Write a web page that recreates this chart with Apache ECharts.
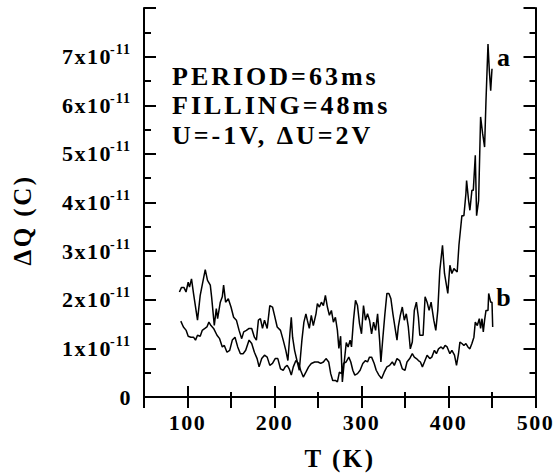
<!DOCTYPE html>
<html>
<head>
<meta charset="utf-8">
<script src="https://cdn.jsdelivr.net/npm/echarts@6/dist/echarts.min.js"></script>
<style>
  html, body { margin: 0; padding: 0; background: #fff; }
  #chart { width: 555px; height: 476px; }
  /* Times-like bold text in the original is spaced out a bit */
  #chart text[style*="26px"] { letter-spacing: 3px; }
  #chart text[style*="25px"] { letter-spacing: 2.5px; }
  #chart text[style*="22px"] { letter-spacing: 1.5px; }
  #chart text[style*="14px"] { letter-spacing: 1px; }
</style>
</head>
<body>
<div id="chart"></div>
<script>
// temperature (K) and charge (units of 1e-11 C), curve a
const tA = [90.7, 93, 96, 98.3, 100.8, 102.3, 104.6, 106.9, 111.5, 114.6, 116.9, 120.4, 123, 126.2, 127.7,
  130.8, 133.1, 134.6, 137.7, 140, 141.5, 143.8, 146.9, 150, 153, 156.2, 159.3, 162.3, 164.6, 167.7,
  170.8, 173.8, 176.9, 179.2, 181.5, 183.8, 186.2, 188.5, 191.6, 194.6, 197.7, 200, 203.1, 206.9, 210,
  213, 215.4, 217.7, 219.3, 220.8, 223.1, 226.2, 228.5, 231.5, 233.8, 236.1, 237.7, 240, 242.3, 244.6,
  247.7, 249.3, 251.6, 253.9, 256.2, 258.5, 260.8, 263.1, 265.4, 267.7, 270, 272.3, 274, 276, 278,
  280, 282.5, 284.6, 286.9, 288.5, 290.8, 293.1, 295.4, 297.7, 300, 302.3, 304.6, 306.9, 309.2, 311.6,
  313.9, 316.2, 318.5, 320.8, 322.3, 324.6, 326.9, 329.2, 331.5, 333.8, 336.1, 338.4, 340.8, 342.3, 344.6,
  346.9, 349.2, 351.5, 353.8, 356.1, 358.4, 360.7, 363.1, 365.4, 367, 370.8, 373.1, 375.4, 377.7, 380,
  383.1, 385.4, 387.7, 390, 393.1, 395.4, 399.2, 401.6, 403.9, 406.2, 410, 412, 415.4, 417.7, 420,
  420.8, 423.1, 424.6, 426.9, 428.5, 430.8, 432.3, 434.6, 436.9, 439.2, 441.5, 443.1, 445.4, 446.9, 448.5, 450];
const qA = [2.16, 2.25, 2.25, 2.16, 2.36, 2.26, 2.43, 2.13, 1.58, 2.09, 2.30, 2.62, 2.40, 2.30, 2.06,
  1.47, 1.82, 1.61, 1.95, 2.06, 2.30, 1.95, 2.02, 1.85, 1.64, 1.58, 1.37, 1.20, 1.34, 1.37,
  1.41, 1.41, 1.23, 1.17, 1.58, 1.61, 1.41, 1.58, 1.41, 1.88, 1.85, 1.68, 1.44, 1.37, 1.17,
  0.96, 0.75, 1.30, 1.64, 1.23, 0.96, 0.72, 0.55, 1.17, 1.54, 1.71, 1.58, 1.41, 1.68, 1.47,
  1.71, 1.92, 1.85, 1.95, 1.88, 2.09, 1.85, 1.68, 1.78, 1.54, 1.64, 1.37, 1.00, 1.25, 0.31,
  0.69, 1.12, 1.03, 1.17, 1.03, 1.58, 1.99, 1.88, 1.51, 1.30, 1.88, 1.58, 1.71, 1.58, 1.30,
  1.54, 1.37, 1.71, 1.17, 0.72, 1.23, 1.71, 2.13, 2.13, 2.02, 1.71, 1.44, 1.17, 1.44, 1.68,
  1.85, 1.58, 1.71, 1.44, 0.99, 1.13, 1.78, 1.95, 1.64, 1.27, 1.27, 2.06, 1.95, 1.78, 1.95,
  1.58, 1.37, 1.78, 2.60, 3.12, 2.54, 2.13, 2.71, 2.54, 2.64, 2.57, 3.12, 3.73, 3.73, 4.18,
  4.45, 4.04, 3.84, 4.25, 4.25, 4.97, 3.73, 4.04, 5.76, 5.42, 5.14, 6.10, 7.26, 6.72, 6.30, 6.75];

// curve b
const tB = [92.3, 95.3, 98.5, 100.8, 103.9, 106.9, 109.2, 111.5, 114.6, 116.9, 120, 122.3, 124.6, 127, 130,
  133.9, 136.9, 140, 142.3, 145.4, 148.5, 151.5, 154.6, 157.7, 160.8, 163.9, 166.9, 170.8, 173.8, 176.9,
  180, 182.3, 185.3, 188.5, 191.6, 194.6, 197.7, 200.8, 203.8, 206.9, 210, 212.3, 214.6, 216.9, 219.3,
  221.6, 224.6, 227.7, 230, 233.1, 236.1, 239.2, 242.3, 246.2, 250, 253.1, 256.2, 259.2, 262.3, 264.6,
  266.9, 270, 272.3, 274.6, 277, 279.3, 282.3, 285.4, 287.7, 290, 292.3, 295.4, 298.4, 301.5, 304.6,
  306.9, 309.2, 311.6, 314.6, 316.9, 320, 323.1, 326.1, 329.2, 332.3, 335.4, 337.7, 340.8, 343.8, 346.9,
  350, 352.3, 355.4, 358.4, 360.7, 363.1, 365.4, 367.7, 370, 372.3, 375.4, 378.5, 380.8, 383.8, 386.1,
  388.5, 391.5, 393.8, 396.1, 398.4, 401.6, 403.9, 406.9, 409.2, 411.5, 413.1, 415.4, 417.7, 420, 422.3,
  424.6, 426.9, 429.2, 430.8, 433.1, 435.4, 436.9, 438.5, 440, 441.5, 443.1, 445.4, 446.2, 448.5, 450, 450.8];
const qB = [1.56, 1.44, 1.37, 1.25, 1.23, 1.23, 1.17, 1.27, 1.25, 1.37, 1.41, 1.44, 1.54, 1.47, 1.41,
  1.27, 1.20, 1.03, 1.06, 0.92, 0.96, 1.17, 1.23, 1.03, 0.89, 0.89, 0.96, 1.17, 1.10, 0.92,
  0.79, 0.62, 0.79, 0.86, 0.82, 0.65, 0.69, 0.79, 0.79, 0.58, 0.55, 0.62, 0.65, 0.58, 0.45,
  0.62, 0.75, 0.69, 0.55, 0.41, 0.51, 0.62, 0.69, 0.72, 0.72, 0.69, 0.72, 0.79, 0.72, 0.48,
  0.34, 0.34, 0.31, 0.51, 0.48, 0.69, 0.72, 0.82, 0.72, 0.55, 0.45, 0.48, 0.55, 0.69, 0.75,
  0.72, 0.82, 0.82, 0.69, 0.55, 0.45, 0.38, 0.51, 0.62, 0.65, 0.72, 0.65, 0.79, 0.75, 0.58,
  0.55, 0.72, 0.79, 0.89, 0.82, 0.79, 0.75, 0.72, 0.62, 0.72, 0.86, 0.79, 0.82, 0.96, 0.89,
  0.99, 1.03, 0.99, 1.06, 1.03, 0.89, 0.96, 0.86, 0.65, 0.89, 1.13, 1.10, 1.06, 1.10, 1.03,
  0.99, 1.10, 1.23, 1.54, 1.47, 1.61, 1.41, 1.61, 1.34, 1.58, 1.78, 1.78, 2.13, 1.95, 1.95, 1.44];

const xMajor = [100, 200, 300, 400, 500];
const xMinor = [150, 250, 350, 450];
const annotations = ['PERIOD=63ms', 'FILLING=48ms', 'U=-1V, \u0394U=2V'];

const FONT = 'Liberation Serif';
const chart = echarts.init(document.getElementById('chart'), null, { renderer: 'svg' });

const line = { lineStyle: { color: '#000', width: 2 } };
const hidden = { show: false };

chart.setOption({
  animation: false,
  grid: { left: 144, right: 19, top: 8, bottom: 79 },
  xAxis: [{
    type: 'value', position: 'bottom', min: 50, max: 500,
    axisLine: line,
    axisTick: { inside: true, length: 11, customValues: xMajor, lineStyle: { color: '#000', width: 2 } },
    axisLabel: {
      customValues: xMajor, margin: 14,
      color: '#000', fontFamily: FONT, fontWeight: 'bold', fontSize: 22
    },
    splitLine: hidden
  }, {
    type: 'value', position: 'bottom', min: 50, max: 500,
    axisLine: hidden,
    axisTick: { inside: true, length: 5, customValues: xMinor, lineStyle: { color: '#000', width: 2 } },
    axisLabel: hidden, splitLine: hidden
  }, {
    type: 'value', position: 'top', min: 50, max: 500, interval: 50,
    axisLine: line,
    axisTick: { inside: true, length: 11, lineStyle: { color: '#000', width: 2 } },
    axisLabel: hidden, splitLine: hidden
  }],
  yAxis: [{
    type: 'value', position: 'left', min: 0, max: 8, interval: 1,
    axisLine: line,
    axisTick: { inside: true, length: 12, lineStyle: { color: '#000', width: 2 } },
    minorTick: { show: true, splitNumber: 2, length: 7, lineStyle: { color: '#000', width: 2 } },
    axisLabel: {
      margin: 32, padding: [6, 0, 0, 0],
      color: '#000', fontFamily: FONT, fontWeight: 'bold', fontSize: 22,
      formatter: v => (v >= 1 && v <= 7) ? v + 'x10' : ''
    },
    splitLine: hidden
  }, {
    // exponent of the tick labels
    type: 'value', position: 'left', min: 0, max: 8, interval: 1,
    axisLine: hidden, axisTick: hidden,
    axisLabel: {
      margin: 13, verticalAlign: 'bottom', lineHeight: 14,
      color: '#000', fontFamily: FONT, fontWeight: 'bold', fontSize: 14,
      formatter: v => (v >= 1 && v <= 7) ? '-11' : ''
    },
    splitLine: hidden
  }, {
    type: 'value', position: 'left', min: 0, max: 8, interval: 1,
    axisLine: hidden, axisTick: hidden,
    axisLabel: {
      margin: 12,
      color: '#000', fontFamily: FONT, fontWeight: 'bold', fontSize: 22,
      formatter: v => v === 0 ? '0' : ''
    },
    splitLine: hidden
  }, {
    type: 'value', position: 'right', min: 0, max: 8, interval: 1,
    axisLine: line,
    axisTick: { inside: true, length: 12, lineStyle: { color: '#000', width: 2 } },
    minorTick: { show: true, splitNumber: 2, length: 6, lineStyle: { color: '#000', width: 2 } },
    axisLabel: hidden, splitLine: hidden
  }],
  graphic: [
    ...annotations.map((txt, i) => ({
      type: 'text', left: 172, top: 63 + i * 29.5,
      style: { text: txt, fill: '#000', font: 'bold 26px "' + FONT + '"' }
    })),
    { type: 'text', x: 505, y: 57, style: { text: 'a', fill: '#000', font: 'bold 26px "' + FONT + '"', textAlign: 'center', textVerticalAlign: 'middle' } },
    { type: 'text', x: 505, y: 297, style: { text: 'b', fill: '#000', font: 'bold 26px "' + FONT + '"', textAlign: 'center', textVerticalAlign: 'middle' } },
    { type: 'text', x: 340, y: 458, style: { text: 'T (K)', fill: '#000', font: 'bold 25px "' + FONT + '"', textAlign: 'center', textVerticalAlign: 'middle' } },
    { type: 'text', x: 22, y: 220, rotation: Math.PI / 2, style: { text: '\u0394Q (C)', fill: '#000', font: 'bold 25px "' + FONT + '"', textAlign: 'center', textVerticalAlign: 'middle' } }
  ],
  series: [{
    name: 'a', type: 'line', showSymbol: false, xAxisIndex: 0, yAxisIndex: 0,
    lineStyle: { color: '#000', width: 1.5 },
    data: tA.map((t, i) => [t, qA[i]])
  }, {
    name: 'b', type: 'line', showSymbol: false, xAxisIndex: 0, yAxisIndex: 0,
    lineStyle: { color: '#000', width: 1.5 },
    data: tB.map((t, i) => [t, qB[i]])
  }]
});
</script>
</body>
</html>
